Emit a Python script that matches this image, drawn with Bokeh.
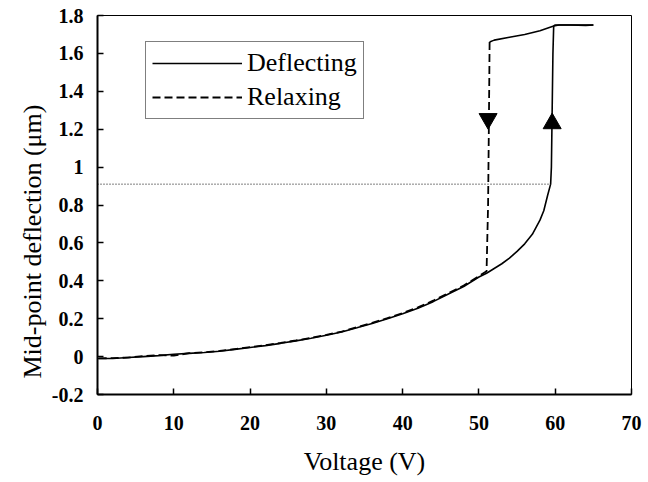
from bokeh.plotting import figure
from bokeh.models import Range1d, FixedTicker, Legend, LegendItem, Title
from bokeh.embed import file_html
from bokeh.resources import INLINE

# Deflecting (increasing voltage)
deflect_v = [0, 2, 4, 6, 8, 10, 12, 14, 16, 18, 20, 22, 24, 26, 28, 30, 32, 34, 36, 38,
             40, 42, 44, 46, 48, 50, 51, 52, 53, 54, 55, 56, 57, 58, 58.5, 59, 59.4,
             59.5, 59.6, 59.7, 59.8, 60.5, 62, 64, 65]
deflect_d = [-0.01, -0.01, -0.005, 0.0, 0.005, 0.012, 0.017, 0.022, 0.028, 0.038, 0.048,
             0.058, 0.07, 0.083, 0.097, 0.113, 0.13, 0.152, 0.175, 0.2, 0.226, 0.255,
             0.29, 0.33, 0.37, 0.42, 0.44, 0.465, 0.49, 0.52, 0.555, 0.595, 0.645, 0.72,
             0.77, 0.85, 0.91, 1.0, 1.3, 1.6, 1.745, 1.75, 1.75, 1.748, 1.75]

# Relaxing (decreasing voltage): upper branch, then snap-down and lower branch
relax_up_v = [65, 62, 60, 59.8, 58, 56, 54, 52, 51.4]
relax_up_d = [1.75, 1.75, 1.75, 1.745, 1.72, 1.70, 1.685, 1.67, 1.66]
relax_lo_v = [51.4, 51.3, 51.2, 51.0, 50, 48, 46, 44, 42, 40, 38, 36, 34, 32, 30, 28,
              26, 24, 22, 20, 18, 16, 14, 12, 10, 8, 6, 4, 2, 0]
relax_lo_d = [1.66, 1.2, 0.8, 0.45, 0.425, 0.375, 0.335, 0.295, 0.26, 0.23, 0.203, 0.178,
              0.155, 0.132, 0.115, 0.099, 0.085, 0.072, 0.06, 0.05, 0.04, 0.03, 0.023,
              0.018, 0.005, 0.008, 0.003, -0.005, -0.008, -0.01]

threshold = 0.91
threshold_v = [0, 59.4]

arrow_up = (59.6, 1.23)
arrow_down = (51.2, 1.255)

x_ticks = [0, 10, 20, 30, 40, 50, 60, 70]
y_ticks = [-0.2, 0, 0.2, 0.4, 0.6, 0.8, 1.0, 1.2, 1.4, 1.6, 1.8]
y_labels = ["-0.2", "0", "0.2", "0.4", "0.6", "0.8", "1", "1.2", "1.4", "1.6", "1.8"]

FONT = "'Liberation Serif', 'Times New Roman', serif"

p = figure(width=648, height=482, output_backend="svg", toolbar_location=None,
           x_range=Range1d(0, 70), y_range=Range1d(-0.2, 1.8),
           min_border_left=97, min_border_right=17, min_border_top=15,
           min_border_bottom=88)
p.background_fill_color = "white"
p.border_fill_color = "white"
p.outline_line_color = "black"
p.outline_line_width = 1
p.xgrid.visible = False
p.ygrid.visible = False

for ax in (p.xaxis[0], p.yaxis[0]):
    ax.axis_line_width = 2
    ax.axis_line_color = "black"
    ax.major_tick_in = 6
    ax.major_tick_out = 0
    ax.minor_tick_line_color = None
    ax.major_tick_line_width = 1.5
    ax.major_label_text_font = FONT
    ax.major_label_text_font_style = "bold"
    ax.major_label_text_font_size = "20px"
    ax.major_label_text_color = "black"
    ax.axis_label_text_font = FONT
    ax.axis_label_text_font_style = "normal"
    ax.axis_label_text_font_size = "26px"
    ax.axis_label_text_color = "black"

p.xaxis.ticker = FixedTicker(ticks=x_ticks)
p.yaxis.ticker = FixedTicker(ticks=y_ticks)
p.yaxis.major_label_overrides = {t: l for t, l in zip(y_ticks, y_labels)}
p.xaxis.axis_label = "Voltage (V)"
p.xaxis.major_label_standoff = 21
p.xaxis.axis_label_standoff = 14
p.yaxis.major_label_standoff = 14

# y-axis title, placed from the bottom of the plot area as in the original
ytitle = Title(text="Mid-point deflection (\u03bcm)", align="left", offset=16,
               text_font=FONT, text_font_size="26px", text_font_style="normal",
               text_color="black", standoff=4)
p.add_layout(ytitle, "left")

# threshold dotted line
p.line(threshold_v, [threshold, threshold], line_color="black", line_width=1,
       line_dash="1 2")

r_def = p.line(deflect_v, deflect_d, line_color="black", line_width=1.6)
p.line(relax_up_v, relax_up_d, line_color="black", line_width=1.6)
r_rel = p.line(relax_lo_v, relax_lo_d, line_color="black", line_width=1.8,
               line_dash="8 4")

p.scatter([arrow_up[0]], [arrow_up[1]], marker="triangle", size=18,
          fill_color="black", line_color="black")
p.scatter([arrow_down[0]], [arrow_down[1]], marker="inverted_triangle", size=18,
          fill_color="black", line_color="black")

legend = Legend(items=[LegendItem(label="Deflecting", renderers=[r_def]),
                       LegendItem(label="Relaxing", renderers=[r_rel])],
                location=(48, 275))
legend.label_text_font = FONT
legend.label_text_font_size = "26px"
legend.label_text_color = "black"
legend.glyph_width = 90
legend.glyph_height = 26
legend.label_height = 26
legend.label_standoff = 5
legend.spacing = 4
legend.padding = 6
legend.margin = 0
legend.border_line_color = "black"
legend.border_line_width = 1
legend.background_fill_alpha = 1
p.add_layout(legend, "center")

open("out.html", "w").write(file_html(p, INLINE))
